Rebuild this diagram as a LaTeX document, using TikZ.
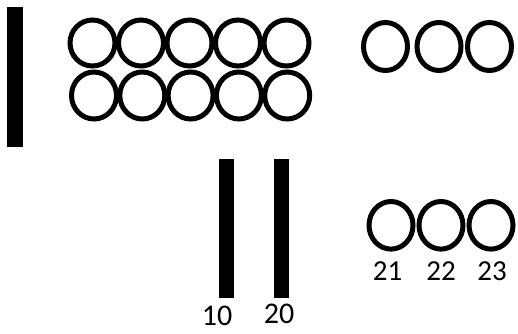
\documentclass[tikz,border=0pt]{standalone}
\usepackage{fontspec}
\setmainfont{Carlito}
\begin{document}
\begin{tikzpicture}[x=1pt,y=-1pt,
  ring/.style={draw=black,line width=5pt},
  bar/.style={fill=black},
  lbl/.style={inner sep=0pt,font=\fontsize{29}{30}\selectfont},
  lblb/.style={inner sep=0pt,font=\fontsize{30}{31}\selectfont}]
\useasboundingbox (0,0) rectangle (518,333);
% left tall bar
\fill[bar] (7,7) rectangle (23,147);
% top-left grid of rings
\foreach \k in {0,...,4}{
  \draw[ring] ({92.5+48.5*\k},43) ellipse [x radius=22.5, y radius=23];
  \draw[ring] ({94+48.3*\k},95.5) ellipse [x radius=22.5, y radius=23.5];
}
% top-right rings
\foreach \cx in {385.5,439,489.5}{
  \draw[ring] (\cx,46.5) ellipse [x radius=22, y radius=24];
}
% bottom bars
\fill[bar] (219,158.5) rectangle (234,297.7);
\fill[bar] (273.5,158.5) rectangle (289,297.7);
\node[lblb] (l10) at (217,315.5) {10};
\node[lblb] (l20) at (279,313.5) {20};
% bottom-right rings with labels
\foreach \cx/\t/\lx in {391/21/387.5,441/22/441,491/23/492}{
  \draw[ring] (\cx,225.3) ellipse [x radius=22, y radius=23.8];
  \node[lbl] (n\t) at (\lx,271) {\t};
}
\end{tikzpicture}
\end{document}
